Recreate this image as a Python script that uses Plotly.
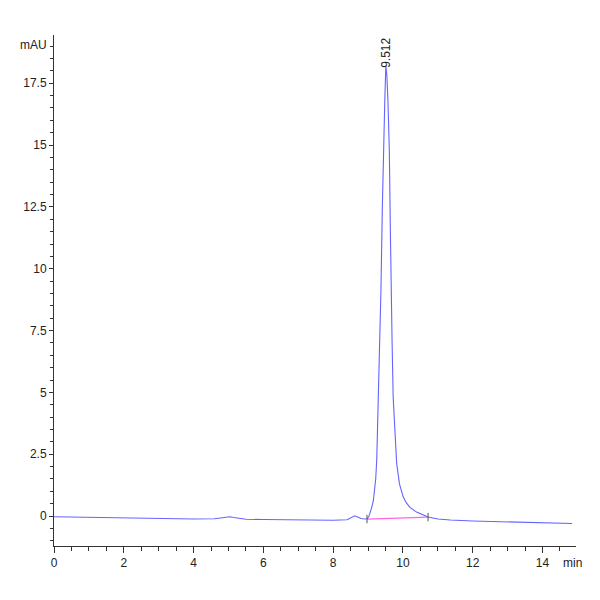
import plotly.graph_objects as go

# chromatogram (min, mAU)
time_min = [0.0, 0.5, 1.0, 1.68, 2.5, 3.0, 3.5, 4.0, 4.6, 4.95, 5.04, 5.15, 5.5,
            6.0, 6.5, 7.0, 7.62, 8.0, 8.4, 8.55, 8.62, 8.7, 8.8, 8.91, 8.97,
            9.02, 9.06, 9.1, 9.15, 9.19, 9.22, 9.25, 9.27, 9.29, 9.33, 9.37,
            9.41, 9.44, 9.48, 9.51, 9.54, 9.57, 9.61, 9.64, 9.66, 9.69, 9.72,
            9.77, 9.82, 9.9, 10.01, 10.1, 10.2, 10.39, 10.55, 10.72, 11.0,
            11.36, 12.0, 12.5, 13.08, 14.0, 14.85]
signal_mau = [-0.03, -0.04, -0.05, -0.09, -0.1, -0.11, -0.11, -0.12, -0.11, -0.07,
              -0.03, -0.06, -0.13, -0.14, -0.15, -0.16, -0.16, -0.17, -0.15,
              -0.05, 0.01, -0.04, -0.1, -0.12, -0.11,
              -0.03, 0.12, 0.32, 0.6, 1.0, 1.5, 2.3, 3.4, 4.8, 7.0, 9.14,
              12.5, 14.8, 16.8, 18.2, 17.8, 16.8, 14.8, 11.5, 9.14, 7.0, 4.81,
              3.2, 2.14, 1.3, 0.77, 0.53, 0.35, 0.16, 0.06, -0.04, -0.12,
              -0.16, -0.2, -0.22, -0.25, -0.28, -0.3]

# integration baseline under the peak
base_time = [8.97, 10.72]
base_signal = [-0.12, -0.04]

peak_rt = 9.512
peak_height = 18.2

x_ticks = [0, 2, 4, 6, 8, 10, 12, 14]
y_ticks = [0, 2.5, 5, 7.5, 10, 12.5, 15, 17.5]
y_labels = ['0', '2.5', '5', '7.5', '10', '12.5', '15', '17.5']

font_name = 'Liberation Sans Narrow, Liberation Sans, Arial'

fig = go.Figure()

fig.add_trace(go.Scatter(
    x=base_time, y=base_signal, mode='lines',
    line=dict(color='#ff66dd', width=1.2), hoverinfo='skip'
))

fig.add_trace(go.Scatter(
    x=time_min, y=signal_mau, mode='lines',
    line=dict(color='rgb(100,100,255)', width=1.1)
))

fig.add_trace(go.Scatter(
    x=base_time, y=base_signal, mode='markers',
    marker=dict(symbol='line-ns', size=6, line=dict(color='#555555', width=1)),
    hoverinfo='skip'
))

fig.add_annotation(
    x=peak_rt, y=peak_height, text='9.512', textangle=-90,
    showarrow=False, yanchor='bottom', xanchor='center', yshift=-4,
    font=dict(family=font_name, size=12, color='#222222')
)
fig.add_annotation(
    x=0, xref='x domain', y=19.05, text='mAU', showarrow=False,
    xanchor='right', yanchor='middle', xshift=-5,
    font=dict(family=font_name, size=12, color='#222222')
)
fig.add_annotation(
    x=14.85, y=0, yref='y domain', text='min', showarrow=False,
    xanchor='center', yanchor='top', yshift=-8,
    font=dict(family=font_name, size=12, color='#222222')
)

# page body adds 8px, so the figure is 592 wide/high
fig.update_layout(
    width=592, height=592,
    showlegend=False,
    plot_bgcolor='white',
    paper_bgcolor='white',
    margin=dict(l=46, r=24, t=27, b=54),
    font=dict(family=font_name, size=12, color='#222222'),
    xaxis=dict(
        range=[0, 14.96], tickvals=x_ticks, showgrid=False, zeroline=False,
        showline=True, linecolor='#333333', linewidth=1,
        ticks='outside', ticklen=6, tickcolor='#333333',
        minor=dict(dtick=0.5, tick0=0, ticks='outside', ticklen=4, tickcolor='#333333'),
    ),
    yaxis=dict(
        range=[-1.21, 19.45], tickvals=y_ticks, ticktext=y_labels,
        showgrid=False, zeroline=False,
        showline=True, linecolor='#333333', linewidth=1,
        ticks='outside', ticklen=4, tickcolor='#333333',
        minor=dict(dtick=0.5, tick0=0, ticks='outside', ticklen=3, tickcolor='#333333'),
    ),
)

fig.write_html('out.html')
